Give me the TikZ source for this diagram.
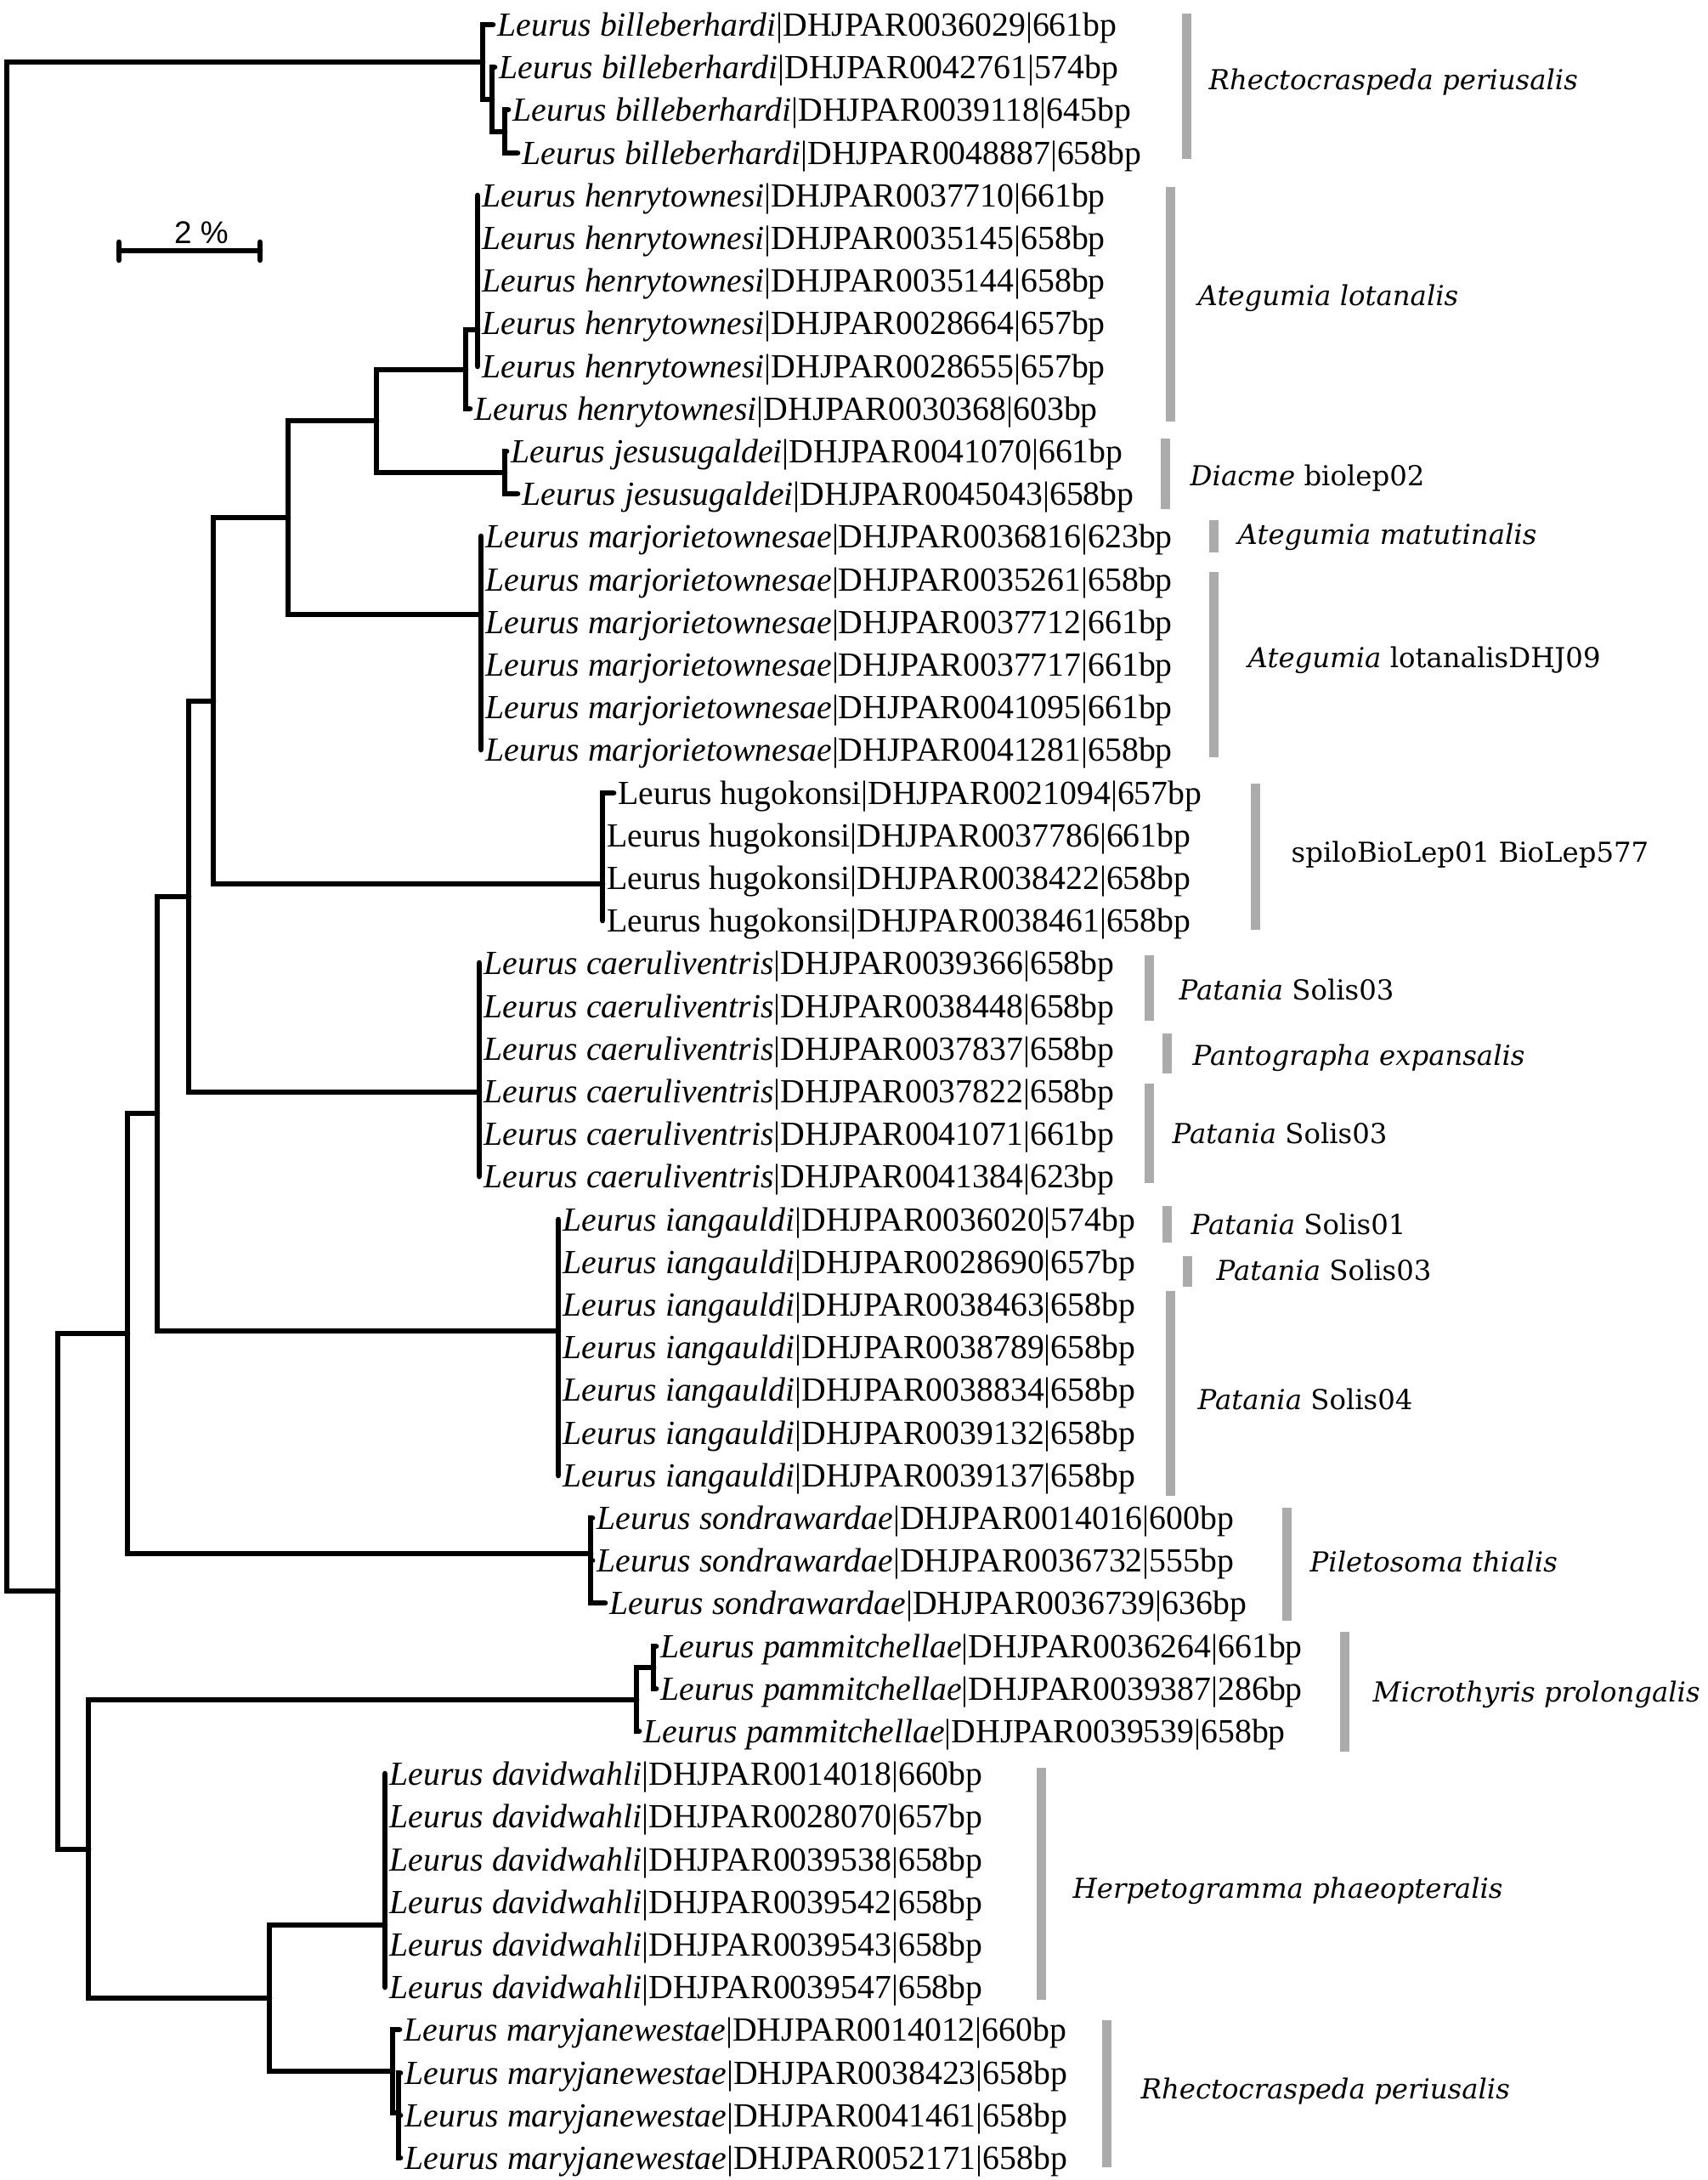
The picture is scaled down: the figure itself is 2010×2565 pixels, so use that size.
\documentclass[tikz,border=0pt]{standalone}
\usepackage{fontspec}
\setmainfont{Liberation Serif}
\newfontfamily\cladefont{DejaVu Serif}
\newfontfamily\barfont{Liberation Sans}
\definecolor{barcol}{HTML}{ABABAB}
\begin{document}
\begin{tikzpicture}[x=0.01cm, y=-0.01cm,
  branch/.style={line width=1.9pt, line cap=round},
  tip/.style={anchor=west, inner xsep=0.05cm, inner ysep=0pt, text height=7.5pt, text depth=0pt, font=\fontsize{11.3}{13}\selectfont},
  cladebar/.style={line width=0.11cm, draw=barcol},
  taxon/.style={anchor=west, inner sep=0pt, text height=6.7pt, text depth=0pt, font=\cladefont\fontsize{9.2}{11}\selectfont}]
\useasboundingbox (0,0) rectangle (2010,2565);

\node[tip] (b1) at (580,29) {\textit{Leurus billeberhardi}|DHJPAR0036029|661bp};
\node[tip] (b2) at (582,79) {\textit{Leurus billeberhardi}|DHJPAR0042761|574bp};
\node[tip] (b3) at (598,129) {\textit{Leurus billeberhardi}|DHJPAR0039118|645bp};
\node[tip] (b4) at (609,180) {\textit{Leurus billeberhardi}|DHJPAR0048887|658bp};
\node[tip] (h1) at (562,230) {\textit{Leurus henrytownesi}|DHJPAR0037710|661bp};
\node[tip] (h2) at (562,280) {\textit{Leurus henrytownesi}|DHJPAR0035145|658bp};
\node[tip] (h3) at (562,330) {\textit{Leurus henrytownesi}|DHJPAR0035144|658bp};
\node[tip] (h4) at (562,380) {\textit{Leurus henrytownesi}|DHJPAR0028664|657bp};
\node[tip] (h5) at (562,431) {\textit{Leurus henrytownesi}|DHJPAR0028655|657bp};
\node[tip] (h6) at (553,481) {\textit{Leurus henrytownesi}|DHJPAR0030368|603bp};
\node[tip] (j1) at (596,531) {\textit{Leurus jesusugaldei}|DHJPAR0041070|661bp};
\node[tip] (j2) at (609,581) {\textit{Leurus jesusugaldei}|DHJPAR0045043|658bp};
\node[tip] (m1) at (566,631) {\textit{Leurus marjorietownesae}|DHJPAR0036816|623bp};
\node[tip] (m2) at (566,682) {\textit{Leurus marjorietownesae}|DHJPAR0035261|658bp};
\node[tip] (m3) at (566,732) {\textit{Leurus marjorietownesae}|DHJPAR0037712|661bp};
\node[tip] (m4) at (566,782) {\textit{Leurus marjorietownesae}|DHJPAR0037717|661bp};
\node[tip] (m5) at (566,832) {\textit{Leurus marjorietownesae}|DHJPAR0041095|661bp};
\node[tip] (m6) at (566,882) {\textit{Leurus marjorietownesae}|DHJPAR0041281|658bp};
\node[tip] (k1) at (722,933) {Leurus hugokonsi|DHJPAR0021094|657bp};
\node[tip] (k2) at (709,983) {Leurus hugokonsi|DHJPAR0037786|661bp};
\node[tip] (k3) at (709,1033) {Leurus hugokonsi|DHJPAR0038422|658bp};
\node[tip] (k4) at (709,1083) {Leurus hugokonsi|DHJPAR0038461|658bp};
\node[tip] (c1) at (564,1133) {\textit{Leurus caeruliventris}|DHJPAR0039366|658bp};
\node[tip] (c2) at (564,1184) {\textit{Leurus caeruliventris}|DHJPAR0038448|658bp};
\node[tip] (c3) at (564,1234) {\textit{Leurus caeruliventris}|DHJPAR0037837|658bp};
\node[tip] (c4) at (564,1284) {\textit{Leurus caeruliventris}|DHJPAR0037822|658bp};
\node[tip] (c5) at (564,1334) {\textit{Leurus caeruliventris}|DHJPAR0041071|661bp};
\node[tip] (c6) at (564,1384) {\textit{Leurus caeruliventris}|DHJPAR0041384|623bp};
\node[tip] (i1) at (657,1435) {\textit{Leurus iangauldi}|DHJPAR0036020|574bp};
\node[tip] (i2) at (657,1485) {\textit{Leurus iangauldi}|DHJPAR0028690|657bp};
\node[tip] (i3) at (657,1535) {\textit{Leurus iangauldi}|DHJPAR0038463|658bp};
\node[tip] (i4) at (657,1585) {\textit{Leurus iangauldi}|DHJPAR0038789|658bp};
\node[tip] (i5) at (657,1635) {\textit{Leurus iangauldi}|DHJPAR0038834|658bp};
\node[tip] (i6) at (657,1686) {\textit{Leurus iangauldi}|DHJPAR0039132|658bp};
\node[tip] (i7) at (657,1736) {\textit{Leurus iangauldi}|DHJPAR0039137|658bp};
\node[tip] (s1) at (697,1786) {\textit{Leurus sondrawardae}|DHJPAR0014016|600bp};
\node[tip] (s2) at (697,1836) {\textit{Leurus sondrawardae}|DHJPAR0036732|555bp};
\node[tip] (s3) at (712,1886) {\textit{Leurus sondrawardae}|DHJPAR0036739|636bp};
\node[tip] (p1) at (772,1937) {\textit{Leurus pammitchellae}|DHJPAR0036264|661bp};
\node[tip] (p2) at (772,1987) {\textit{Leurus pammitchellae}|DHJPAR0039387|286bp};
\node[tip] (p3) at (752,2037) {\textit{Leurus pammitchellae}|DHJPAR0039539|658bp};
\node[tip] (d1) at (453,2087) {\textit{Leurus davidwahli}|DHJPAR0014018|660bp};
\node[tip] (d2) at (453,2137) {\textit{Leurus davidwahli}|DHJPAR0028070|657bp};
\node[tip] (d3) at (453,2188) {\textit{Leurus davidwahli}|DHJPAR0039538|658bp};
\node[tip] (d4) at (453,2238) {\textit{Leurus davidwahli}|DHJPAR0039542|658bp};
\node[tip] (d5) at (453,2288) {\textit{Leurus davidwahli}|DHJPAR0039543|658bp};
\node[tip] (d6) at (453,2338) {\textit{Leurus davidwahli}|DHJPAR0039547|658bp};
\node[tip] (w1) at (470,2388) {\textit{Leurus maryjanewestae}|DHJPAR0014012|660bp};
\node[tip] (w2) at (471,2439) {\textit{Leurus maryjanewestae}|DHJPAR0038423|658bp};
\node[tip] (w3) at (471,2489) {\textit{Leurus maryjanewestae}|DHJPAR0041461|658bp};
\node[tip] (w4) at (471,2539) {\textit{Leurus maryjanewestae}|DHJPAR0052171|658bp};

\coordinate (bil3) at (594,155);
\coordinate (bil2) at (579,117);
\coordinate (bil1) at (568,73);
\coordinate (hen2) at (562,388);
\coordinate (hen1) at (548,435);
\coordinate (jes) at (594,556);
\coordinate (hj) at (443,495);
\coordinate (mar) at (566,723);
\coordinate (hjm) at (339,609);
\coordinate (hug) at (709,1040);
\coordinate (hjmk) at (251,825);
\coordinate (cae) at (564,1285);
\coordinate (up) at (222,1055);
\coordinate (ian) at (657,1566);
\coordinate (upi) at (185,1310);
\coordinate (son) at (695,1828);
\coordinate (mid) at (150,1569);
\coordinate (pam2) at (769,1962);
\coordinate (pam) at (749,2000);
\coordinate (dav) at (453,2265);
\coordinate (mjw2) at (469,2486);
\coordinate (mjw) at (462,2437);
\coordinate (dm) at (317,2351);
\coordinate (low) at (104,2176);
\coordinate (inner) at (68,1872);
\coordinate (root) at (8,973);

\draw[branch] (root) |- (bil1) (root) |- (inner);
\draw[branch] (bil1) |- (b1.west) (bil1) |- (bil2);
\draw[branch] (bil2) |- (b2.west) (bil2) |- (bil3);
\draw[branch] (bil3) |- (b3.west) (bil3) |- (b4.west);
\draw[branch] (inner) |- (mid) (inner) |- (low);
\draw[branch] (mid) |- (upi) (mid) |- (son);
\draw[branch] (upi) |- (up) (upi) |- (ian);
\draw[branch] (up) |- (hjmk) (up) |- (cae);
\draw[branch] (hjmk) |- (hjm) (hjmk) |- (hug);
\draw[branch] (hjm) |- (hj) (hjm) |- (mar);
\draw[branch] (hj) |- (hen1) (hj) |- (jes);
\draw[branch] (hen1) |- (hen2) (hen1) |- (h6.west);
\draw[branch] (hen2) |- (h1.west) (hen2) |- (h2.west) (hen2) |- (h3.west) (hen2) |- (h4.west) (hen2) |- (h5.west);
\draw[branch] (jes) |- (j1.west) (jes) |- (j2.west);
\draw[branch] (mar) |- (m1.west) (mar) |- (m2.west) (mar) |- (m3.west) (mar) |- (m4.west) (mar) |- (m5.west) (mar) |- (m6.west);
\draw[branch] (hug) |- (k1.west) (hug) |- (k2.west) (hug) |- (k3.west) (hug) |- (k4.west);
\draw[branch] (cae) |- (c1.west) (cae) |- (c2.west) (cae) |- (c3.west) (cae) |- (c4.west) (cae) |- (c5.west) (cae) |- (c6.west);
\draw[branch] (ian) |- (i1.west) (ian) |- (i2.west) (ian) |- (i3.west) (ian) |- (i4.west) (ian) |- (i5.west) (ian) |- (i6.west) (ian) |- (i7.west);
\draw[branch] (son) |- (s1.west) (son) |- (s2.west) (son) |- (s3.west);
\draw[branch] (low) |- (pam) (low) |- (dm);
\draw[branch] (pam) |- (pam2) (pam) |- (p3.west);
\draw[branch] (pam2) |- (p1.west) (pam2) |- (p2.west);
\draw[branch] (dm) |- (dav) (dm) |- (mjw);
\draw[branch] (dav) |- (d1.west) (dav) |- (d2.west) (dav) |- (d3.west) (dav) |- (d4.west) (dav) |- (d5.west) (dav) |- (d6.west);
\draw[branch] (mjw) |- (w1.west) (mjw) |- (mjw2);
\draw[branch] (mjw2) |- (w2.west) (mjw2) |- (w3.west) (mjw2) |- (w4.west);

\coordinate (sb1) at (140,295);
\coordinate (sb2) at (306,295);
\draw[branch] (sb1) -- (sb2);
\draw[branch] (140,285) -- (140,306);
\draw[branch] (306,285) -- (306,306);
\node[font=\barfont\fontsize{10.5}{12}\selectfont, inner sep=0pt] (scale) at (237,274) {2 \%};

\draw[cladebar] (1396,16) -- (1396,187);
\node[taxon] (t1) at (1422,94) {\textit{Rhectocraspeda periusalis}};
\draw[cladebar] (1377,220) -- (1377,496);
\node[taxon] (t2) at (1409,348) {\textit{Ategumia lotanalis}};
\draw[cladebar] (1371,516) -- (1371,599);
\node[taxon] (t3) at (1400,560) {\textit{Diacme} biolep02};
\draw[cladebar] (1428,612) -- (1428,650);
\node[taxon] (t4) at (1456,629) {\textit{Ategumia matutinalis}};
\draw[cladebar] (1428,673) -- (1428,891);
\node[taxon] (t5) at (1468,774) {\textit{Ategumia} lotanalisDHJ09};
\draw[cladebar] (1477,922) -- (1477,1094);
\node[taxon] (t6) at (1519,1003) {spiloBioLep01 BioLep577};
\draw[cladebar] (1352,1124) -- (1352,1201);
\node[taxon] (t7) at (1387,1165) {\textit{Patania} Solis03};
\draw[cladebar] (1373,1216) -- (1373,1263);
\node[taxon] (t8) at (1403,1242) {\textit{Pantographa expansalis}};
\draw[cladebar] (1352,1275) -- (1352,1392);
\node[taxon] (t9) at (1379,1334) {\textit{Patania} Solis03};
\draw[cladebar] (1373,1419) -- (1373,1462);
\node[taxon] (t10) at (1401,1441) {\textit{Patania} Solis01};
\draw[cladebar] (1397,1478) -- (1397,1514);
\node[taxon] (t11) at (1431,1495) {\textit{Patania} Solis03};
\draw[cladebar] (1377,1519) -- (1377,1760);
\node[taxon] (t12) at (1409,1647) {\textit{Patania} Solis04};
\draw[cladebar] (1514,1774) -- (1514,1907);
\node[taxon] (t13) at (1541,1838) {\textit{Piletosoma thialis}};
\draw[cladebar] (1582,1920) -- (1582,2061);
\node[taxon] (t14) at (1615,1991) {\textit{Microthyris prolongalis}};
\draw[cladebar] (1225,2080) -- (1225,2353);
\node[taxon] (t15) at (1262,2222) {\textit{Herpetogramma phaeopteralis}};
\draw[cladebar] (1302,2377) -- (1302,2550);
\node[taxon] (t16) at (1342,2458) {\textit{Rhectocraspeda periusalis}};
\end{tikzpicture}
\end{document}
